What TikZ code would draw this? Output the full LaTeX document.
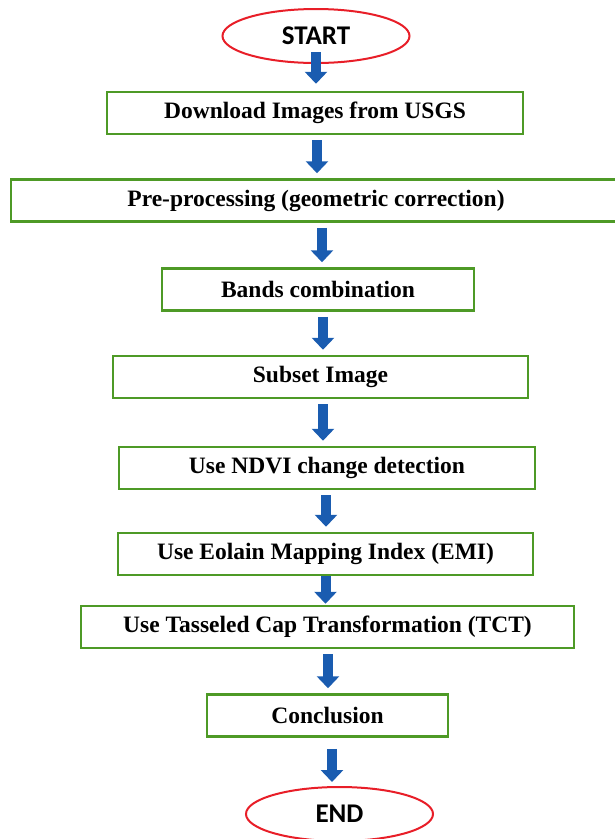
\documentclass[tikz,border=0pt]{standalone}
\usepackage{fontspec}
\usepackage{xcolor}
\setmainfont{Liberation Serif}
\newfontfamily\termfont{Carlito}
\usetikzlibrary{shapes.geometric,arrows.meta}

\definecolor{boxgreen}{RGB}{78,154,38}
\definecolor{termred}{RGB}{232,30,40}
\definecolor{flowblue}{RGB}{26,92,176}

\tikzset{
    stage/.style={draw=boxgreen, line width=2.5pt, minimum height=42pt, inner sep=0pt,
        font=\fontsize{23.5}{27}\selectfont\bfseries},
    term/.style={ellipse, draw=termred, line width=2pt, minimum width=187pt, minimum height=54pt,
        inner sep=0pt, font=\termfont\fontsize{27}{31}\selectfont\bfseries},
    flow/.style={flowblue, line width=10pt, -{Triangle[width=22pt,length=12pt]},
        shorten <=5pt, shorten >=5pt}
}

\begin{document}
\begin{tikzpicture}[x=1pt,y=-1pt]
                \useasboundingbox (0,0) rectangle (614,839);

                %% terminals
                \node[term] (start) at (316,36)    {START};
                \node[term] (end)   at (339.5,814) {END};

                %% steps
                \node[stage, minimum width=416pt] (dl)     at (315,113)   {Download Images from USGS};
                \node[stage, minimum width=610pt] (pre)    at (316,200.5) {Pre-processing (geometric correction)};
                \node[stage, minimum width=312pt] (bands)  at (318,289.5) {Bands combination};
                \node[stage, minimum width=415pt] (subset) at (320.5,377) {Subset Image};
                \node[stage, minimum width=416pt] (ndvi)   at (327,468)   {Use NDVI change detection};
                \node[stage, minimum width=415pt] (emi)    at (325.5,554) {Use Eolain Mapping Index (EMI)};
                \node[stage, minimum width=493pt] (tct)    at (327.5,627) {Use Tasseled Cap Transformation (TCT)};
                \node[stage, minimum width=241pt] (concl)  at (327.5,715.5) {Conclusion};

                %% arrows
                \draw[flow, shorten <=-12pt, shorten >=7pt] (start.south) -- (start.south |- dl.north);
                \draw[flow] ([xshift=2pt]dl.south)      -- ([xshift=2pt]dl.south |- pre.north);
                \draw[flow] ([xshift=6pt]pre.south)     -- ([xshift=6pt]pre.south |- bands.north);
                \draw[flow] ([xshift=5pt]bands.south)   -- ([xshift=5pt]bands.south |- subset.north);
                \draw[flow] ([xshift=2.5pt]subset.south) -- ([xshift=2.5pt]subset.south |- ndvi.north);
                \draw[flow] ([xshift=-1pt]ndvi.south)   -- ([xshift=-1pt]ndvi.south |- emi.north);
                \draw[flow, shorten <=0pt, shorten >=1pt] (emi.south) -- (emi.south |- tct.north);
                \draw[flow] ([xshift=0.5pt]tct.south)   -- ([xshift=0.5pt]tct.south |- concl.north);
                \draw[flow, shorten <=11pt, shorten >=4pt] ([xshift=4.5pt]concl.south) -- ([xshift=4.5pt]concl.south |- end.north);

\end{tikzpicture}
\end{document}
